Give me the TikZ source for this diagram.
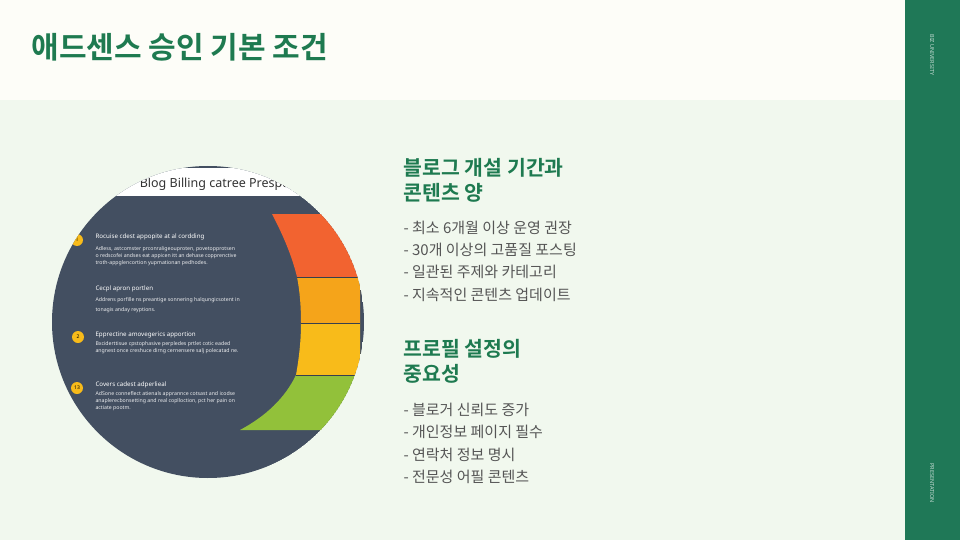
\documentclass[tikz,border=0pt]{standalone}
\usepackage{fontspec}
\setmainfont{Noto Sans}
\newfontfamily\kr{Noto Sans CJK KR}
\newfontfamily\krb{Noto Sans CJK KR Bold}
\definecolor{hdr}{HTML}{FDFDF8}
\definecolor{bodybg}{HTML}{F1F8EE}
\definecolor{sidecol}{HTML}{1F7857}
\definecolor{ttl}{HTML}{1E7A50}
\definecolor{txt}{HTML}{555555}
\definecolor{slate}{HTML}{434F61}
\definecolor{cred}{HTML}{F26330}
\definecolor{corange}{HTML}{F5A41A}
\definecolor{cyellow}{HTML}{F8BB1A}
\definecolor{cgreen}{HTML}{92C13A}
\begin{document}
\begin{tikzpicture}[x=1pt,y=-1pt,
  head/.style={anchor=west,text=ttl,font=\krb\fontsize{20.5}{24}\selectfont},
  item/.style={anchor=west,text=txt,font=\kr\fontsize{15}{18}\selectfont},
  sidelabel/.style={text=white!75!sidecol,font=\fontsize{5.5}{6}\selectfont,rotate=-90},
  small/.style={anchor=west,text=white!90!slate,font=\fontsize{5.2}{7}\selectfont},
  smallb/.style={anchor=west,text=white,font=\fontsize{6.2}{7}\selectfont\bfseries},
  badge/.style={circle,fill=cyellow,minimum size=12pt,inner sep=0pt,font=\fontsize{5}{6}\selectfont}]
\useasboundingbox (0,0) rectangle (960,540);
\fill[bodybg] (0,0) rectangle (960,540);
\fill[hdr] (0,0) rectangle (905,100);
\fill[sidecol] (905,0) rectangle (960,540);
\node[sidelabel] (s1) at (932,55) {BIZ UNIVERSITY};
\node[sidelabel] (s2) at (932,483) {PRESENTATION};
\node[anchor=west,text=ttl,font=\krb\fontsize{30}{34}\selectfont] (title) at (28,47) {애드센스 승인 기본 조건};
% circle image
\begin{scope}
\clip (208,322) circle (156);
\fill[slate] (208,322) circle (156);
\fill[white] (40,168) rectangle (380,196);
\node[text=black!80,font=\fontsize{12.5}{14}\selectfont\bfseries] (ct) at (215,184) {Blog Billing catree Prespt.};
\fill[cred] (272,214) .. controls (283,235) and (292,256) .. (297,277) -- (360,277) -- (360,214) -- cycle;
\fill[corange] (297,277) .. controls (300,292) and (301,308) .. (301,323) -- (360,323) -- (360,277) -- cycle;
\fill[cyellow] (301,323) .. controls (301,341) and (299,358) .. (296,375) -- (360,375) -- (360,323) -- cycle;
\fill[cgreen] (296,375) .. controls (285,398) and (266,416) .. (240,430) -- (360,430) -- (360,375) -- cycle;
\draw[slate!80!black,line width=0.4pt] (297,277) -- (360,277) (301,323) -- (360,323) (296,375) -- (360,375);
\node[badge] (b1) at (77,240) {1};
\node[badge] (b2) at (78,337) {2};
\node[badge] (b3) at (77,388) {13};
\node[smallb] (t1) at (92,237) {Rocuise cdest appopite at al cordding};
\node[small,align=left] (p1) at (92,256) {Adless, astcomster prconraligeouproten, povetopprotsen\\o redscofei andses eat appicen itt an dehase copprenctive\\troth-appglencortion yupmationan pedhodes.};
\node[smallb] (t2) at (92,289) {Cecpl apron portlen};
\node[small,align=left] (p2) at (92,305) {Addrens porfille ns preantige sonnering halqungicsotent in\\[3pt]tonagis anday reyptions.};
\node[smallb] (t3) at (92,335) {Epprectine amovegerics apportion};
\node[small,align=left] (p3) at (92,348) {Bxciderttisue cpstophasive perpledes prtlet cotic eaded\\angnest once creshuce dirng cernensere salj polecatad ne.};
\node[smallb] (t4) at (92,385) {Covers cadest adperlieal};
\node[small,align=left] (p4) at (92,401) {AdSone conneflect atienals apprannce cotsast and icodse\\anaplerecbonsetting and real coplloction, pct her pain on\\actiate pootm.};
\end{scope}
% right text
\node[head] (h1a) at (400,168) {블로그 개설 기간과};
\node[head] (h1b) at (400,193) {콘텐츠 양};
\node[item] (i1) at (400,228) {- 최소 6개월 이상 운영 권장};
\node[item] (i2) at (400,250) {- 30개 이상의 고품질 포스팅};
\node[item] (i3) at (400,272) {- 일관된 주제와 카테고리};
\node[item] (i4) at (400,295) {- 지속적인 콘텐츠 업데이트};
\node[head] (h2a) at (400,349) {프로필 설정의};
\node[head] (h2b) at (400,374) {중요성};
\node[item] (j1) at (400,410) {- 블로거 신뢰도 증가};
\node[item] (j2) at (400,432) {- 개인정보 페이지 필수};
\node[item] (j3) at (400,455) {- 연락처 정보 명시};
\node[item] (j4) at (400,477) {- 전문성 어필 콘텐츠};
\end{tikzpicture}
\end{document}
